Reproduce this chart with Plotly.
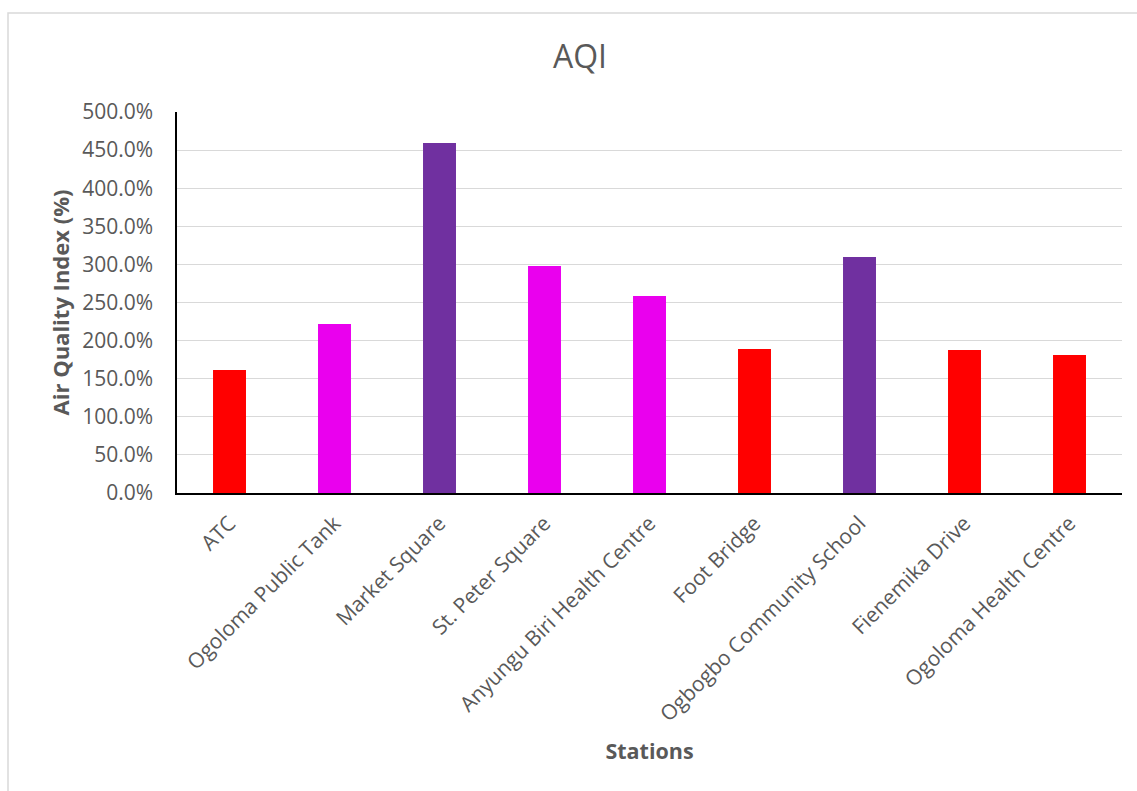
import plotly.graph_objects as go

stations = ["ATC", "Ogoloma Public Tank", "Market Square", "St. Peter Square",
            "Anyungu Biri Health Centre", "Foot Bridge", "Ogbogbo Community School",
            "Fienemika Drive", "Ogoloma Health Centre"]
aqi = [161.4, 221.8, 459.3, 297.9, 258.5, 189.0, 309.7, 187.7, 181.1]
bar_colors = ["#FF0000", "#EA00EE", "#7030A0", "#EA00EE", "#EA00EE",
              "#FF0000", "#7030A0", "#FF0000", "#FF0000"]
y_ticks = [0, 50, 100, 150, 200, 250, 300, 350, 400, 450, 500]

W, H = 1137, 791
L, R, T, B = 177, 15, 112, 298
pw = W - L - R
ph = H - T - B

fig = go.Figure()
fig.add_trace(go.Bar(x=stations, y=aqi, marker=dict(color=bar_colors, line=dict(width=0)),
                     showlegend=False, hoverinfo="x+y"))

fig.update_layout(
    width=W, height=H,
    margin=dict(l=L, r=R, t=T, b=B, autoexpand=False),
    paper_bgcolor="white", plot_bgcolor="white",
    bargap=0.686,
    title=dict(text="AQI", x=580 / W, xanchor="center",
               y=1 - 57 / H, yanchor="middle",
               font=dict(family="Open Sans", size=32, color="#595959")),
    font=dict(family="Open Sans", color="#595959"),
)

fig.update_yaxes(
    range=[0, 500], tickvals=y_ticks, ticktext=[f"{v:.1f}%" for v in y_ticks],
    showgrid=True, gridcolor="#D9D9D9", gridwidth=1.3,
    showline=True, linecolor="#000000", linewidth=1.5,
    ticks="", ticklabelstandoff=18,
    tickfont=dict(family="Open Sans", size=21, color="#595959"),
    title=dict(text="<b>Air Quality Index (%)</b>", standoff=6,
               font=dict(family="Open Sans", size=22, color="#595959")),
    zeroline=False, automargin=False,
)
fig.update_xaxes(
    showline=True, linecolor="#000000", linewidth=1.5,
    ticks="", tickangle=-45, ticklabelstandoff=8,
    tickfont=dict(family="Open Sans", size=21, color="#595959"),
    title=dict(text="<b>Stations</b>", standoff=18,
               font=dict(family="Open Sans", size=21.5, color="#595959")),
    automargin=False,
)

# chart-area border
fig.add_shape(type="rect", xref="paper", yref="paper",
              x0=(8 - L) / pw, x1=(W + 5 - L) / pw,
              y0=(H - B - (H + 5)) / ph, y1=(H - B - 13) / ph,
              line=dict(color="#D9D9D9", width=1.5), fillcolor="rgba(0,0,0,0)", layer="below")

fig.write_html("out.html")
